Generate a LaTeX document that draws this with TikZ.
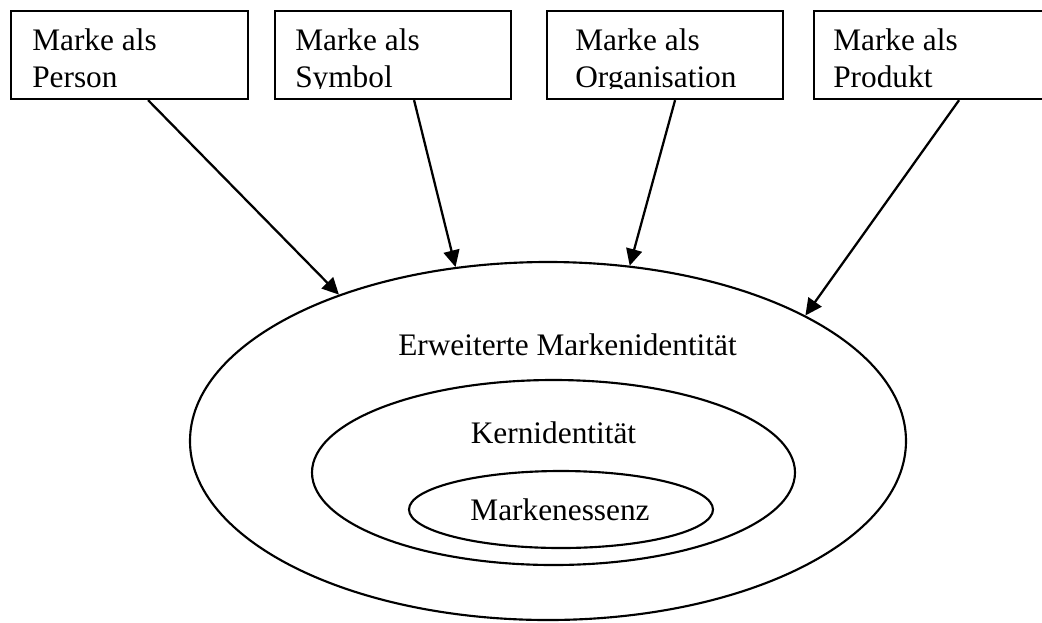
\documentclass[tikz,border=0pt]{standalone}
\usepackage{fontspec}
\setmainfont{Liberation Serif}
\usetikzlibrary{shapes.geometric,arrows.meta,calc}

\tikzset{
  facet/.style={draw, line width=1.6pt, rectangle, anchor=north west, inner sep=0pt,
                minimum height={88*0.75pt}},
  facettext/.style={anchor=base west, inner sep=0pt, font=\fontsize{23.5}{27.75}\selectfont},
  ring/.style={draw, line width=1.6pt, ellipse, inner sep=0pt},
  ringtext/.style={anchor=base, inner sep=0pt, font=\fontsize{23.5}{27.75}\selectfont},
  link/.style={line width=1.7pt, -{Triangle[length=12.5pt,width=12pt]}}
}

\begin{document}
\begin{tikzpicture}[x=0.75pt,y=-0.75pt]
  \useasboundingbox (0,0) rectangle (1042,622);

  % four facets of the brand
  \node[facet, minimum width={237*0.75pt}] (p1) at (10,10) {};
  \node[facet, minimum width={236*0.75pt}] (p2) at (274,10) {};
  \node[facet, minimum width={236*0.75pt}] (p3) at (546,10) {};
  \node[facet, minimum width={237*0.75pt}] (p4) at (813,10) {};

  \begin{scope}
    \clip (10,10) rectangle (1042,88.5);
    \node[facettext] (p1a) at (32,50) {Marke als};
    \node[facettext] (p1b) at (32,87) {Person};
    \node[facettext] (p2a) at (295,50) {Marke als};
    \node[facettext] (p2b) at (295,87) {Symbol};
    \node[facettext] (p3a) at (575,50) {Marke als};
    \node[facettext] (p3b) at (575,87) {Organisation};
    \node[facettext] (p4a) at (833,50) {Marke als};
    \node[facettext] (p4b) at (833,87) {Produkt};
  \end{scope}

  % nested identity rings
  \node[ring, minimum width={716*0.75pt}, minimum height={358*0.75pt}] (outer) at (548,441) {};
  \node[ring, minimum width={483*0.75pt}, minimum height={185*0.75pt}] (core) at (553.5,472.5) {};
  \node[ring, minimum width={304*0.75pt}, minimum height={77*0.75pt}] (essence) at (561,509.5) {};

  \node[anchor=base west, inner sep=0pt, font=\fontsize{23.5}{27.75}\selectfont] (outerlbl) at (398,355) {Erweiterte Markenidentität};
  \node[ringtext] (corelbl) at (553.5,443) {Kernidentität};
  \node[ringtext] (essencelbl) at (560,520) {Markenessenz};

  % connectors from the facets to the extended identity
  \draw[link] ($(p1.south)+(18.5,0)$) -- (outer.145.2);
  \draw[link] ($(p2.south)+(21,0)$) -- (outer.118.2);
  \draw[link] ($(p3.south)+(10,0)$) -- (outer.65.4);
  \draw[link] ($(p4.south)+(26.5,0)$) -- (outer.26.1);
\end{tikzpicture}
\end{document}
